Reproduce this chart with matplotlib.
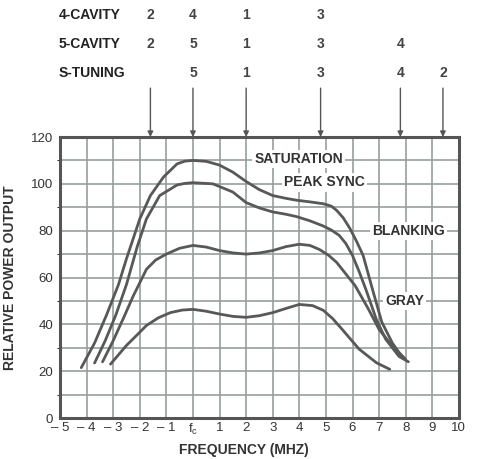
import numpy as np
import matplotlib.pyplot as plt
from matplotlib.transforms import blended_transform_factory

plt.rcParams['font.family'] = ['Liberation Sans', 'DejaVu Sans']

# ---------- data ----------
sat_x = [-4.2, -3.7, -3.25, -2.8, -2.5, -2.0, -1.6, -1.1, -0.6, -0.3, 0.0, 0.5, 1.0, 1.5, 2.0, 2.5, 3.0, 3.5, 3.9, 4.4, 4.9, 5.2, 5.4, 5.65, 5.9, 6.15, 6.4, 6.75, 7.1, 7.5, 7.75, 8.0]
sat_y = [21.5, 32, 44, 57, 68, 85, 95, 103, 108.5, 109.7, 110, 109.6, 108, 105, 101, 97.5, 95, 93.8, 93, 92.3, 91.5, 90.5, 88.7, 85.5, 81, 75.5, 69.4, 55, 41, 32, 28, 25]

sync_x = [-3.7, -3.3, -2.9, -2.5, -2.1, -1.75, -1.25, -0.6, -0.3, 0.0, 0.75, 1.5, 2.0, 2.5, 3.0, 3.5, 3.9, 4.4, 4.9, 5.2, 5.5, 5.75, 6.0, 6.25, 6.5, 6.9, 7.25, 7.75, 8.1]
sync_y = [23.5, 33, 44, 57, 73, 85, 95, 99.5, 100.2, 100.5, 100, 96.5, 92, 89.7, 88, 87, 86, 84.2, 82, 80.3, 78, 74.5, 69.4, 62.5, 55, 42, 33.6, 26.3, 24]

blank_x = [-3.4, -3.0, -2.6, -2.25, -1.75, -1.4, -1.0, -0.5, 0.0, 0.5, 1.0, 1.5, 2.0, 2.5, 3.0, 3.5, 4.0, 4.4, 4.75, 5.1, 5.4, 5.75, 6.1, 6.6, 7.0, 7.6, 7.9]
blank_y = [24, 33, 43, 52, 63.5, 67.5, 70, 72.5, 73.7, 73, 71.5, 70.5, 70, 70.5, 71.5, 73.2, 74.2, 73.7, 72, 69.5, 66.5, 61.5, 56.5, 46.5, 37.8, 29.3, 25.5]

gray_x = [-3.1, -2.5, -2.1, -1.75, -1.3, -0.85, -0.4, 0.0, 0.5, 1.0, 1.5, 2.0, 2.5, 3.0, 3.5, 4.0, 4.5, 4.9, 5.25, 5.6, 6.25, 6.9, 7.4]
gray_y = [23, 31, 35.5, 39.5, 42.8, 45, 46.1, 46.4, 45.6, 44.4, 43.4, 43, 43.7, 45, 46.8, 48.5, 48, 46, 42.5, 38, 29.4, 23.6, 20.8]

curve_labels = ['SATURATION', 'PEAK SYNC', 'BLANKING', 'GRAY']
label_pos = [(3.97, 110.5), (4.95, 100.6), (8.1, 80), (7.95, 50)]

# tuning table above the chart
arrow_x = [-1.6, 0.0, 2.0, 4.8, 7.8, 9.4]
row_names = ['4-CAVITY', '5-CAVITY', 'S-TUNING']
row_values = [
    ['2', '4', '1', '3', '', ''],
    ['2', '5', '1', '3', '4', ''],
    ['', '5', '1', '3', '4', '2'],
]

x_ticks = list(range(-5, 11))
x_tick_labels = ['\u2013 5', '\u2013 4', '\u2013 3', '\u2013 2', '\u2013 1', '$\\mathregular{f_c}$',
                 '1', '2', '3', '4', '5', '6', '7', '8', '9', '10']
y_ticks = [0, 20, 40, 60, 80, 100, 120]

# ---------- plot ----------
fig = plt.figure(figsize=(4.78, 4.59), dpi=100)
ax = fig.add_axes([0.1255, 0.0893, 0.8345, 0.6122])

ax.set_xlim(-5, 10)
ax.set_ylim(0, 120)
ax.set_xticks(x_ticks)
ax.set_yticks(np.arange(0, 121, 10), minor=True)
ax.set_yticks(y_ticks)
ax.grid(True, which='both', color='#959e9e', linewidth=1.2)
ax.set_axisbelow(True)
ax.tick_params(length=0, labelsize=9.5, colors='#333333')
ax.tick_params(axis='x', pad=3)
ax.tick_params(axis='y', pad=5)
ax.set_xticklabels(x_tick_labels)
for s in ax.spines.values():
    s.set_color('#555555')
    s.set_linewidth(2.2)

line_color = '#585858'
for xs, ys in [(sat_x, sat_y), (sync_x, sync_y), (blank_x, blank_y), (gray_x, gray_y)]:
    ax.plot(xs, ys, color=line_color, linewidth=2.0, solid_joinstyle='round', solid_capstyle='round')

for name, (lx, ly) in zip(curve_labels, label_pos):
    ax.text(lx, ly, name, ha='center', va='center', fontsize=10, fontweight='bold', color='#333333',
            bbox=dict(facecolor='white', edgecolor='none', pad=1.5))

ax.set_xlabel('FREQUENCY (MHZ)', fontsize=10, fontweight='bold', color='#333333', va='center')
ax.xaxis.set_label_coords(0.46, -0.113)
ax.set_ylabel('RELATIVE POWER OUTPUT', fontsize=10, fontweight='bold', color='#333333')
ax.yaxis.set_label_coords(-0.108, 0.5)

# table and arrows
trans = blended_transform_factory(ax.transData, ax.transAxes)
row_y = [1.434, 1.331, 1.228]
for name, vals, ry in zip(row_names, row_values, row_y):
    ax.text(-5.05, ry, name, transform=trans, ha='left', va='center', fontsize=10, fontweight='bold',
            color='#222222', clip_on=False)
    for xv, v in zip(arrow_x, vals):
        ax.text(xv, ry, v, transform=trans, ha='center', va='center', fontsize=10, fontweight='bold',
                color='#444444', clip_on=False)

for xv in arrow_x:
    ax.annotate('', xy=(xv, 1.0), xycoords=trans, xytext=(xv, 1.174), textcoords=trans,
                arrowprops=dict(arrowstyle='-|>', color='#555555', lw=1.0, mutation_scale=8,
                                shrinkA=0, shrinkB=0))

fig.savefig('out.png', dpi=100)
